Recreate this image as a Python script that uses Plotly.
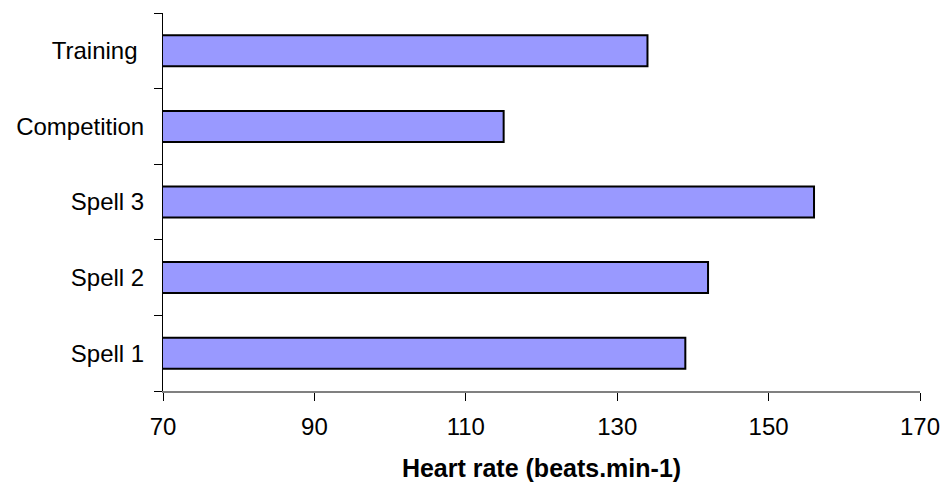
import plotly.graph_objects as go

categories = ["Spell 1", "Spell 2", "Spell 3", "Competition", "Training"]
category_labels = ["Spell 1", "Spell 2", "Spell 3", "Competition", "Training\u00a0"]
heart_rate = [139, 142, 156, 115, 134]
x_ticks = [70, 90, 110, 130, 150, 170]

fig = go.Figure(go.Bar(
    x=heart_rate, y=categories, orientation="h", base=0,
    marker=dict(color="#9999FF", line=dict(color="black", width=2)),
))

fig.update_layout(
    width=944, height=483,
    margin=dict(l=163, r=24, t=13, b=92, autoexpand=False),
    plot_bgcolor="white", paper_bgcolor="white",
    bargap=0.59, showlegend=False,
    font=dict(family="Liberation Sans, Arial", size=24, color="black"),
)
fig.update_xaxes(
    range=[70, 170], tickvals=x_ticks, showgrid=False, zeroline=False,
    showline=True, linecolor="#808080", linewidth=2, automargin=False,
    ticks="outside", ticklen=8, tickcolor="black", tickwidth=1,
    tickfont=dict(size=24), ticklabelstandoff=5,
    title=dict(text="<b>Heart rate (beats.min-1)</b>", font=dict(size=25), standoff=21),
)
fig.update_yaxes(
    categoryorder="array", categoryarray=categories,
    tickvals=categories, ticktext=category_labels, automargin=False,
    showgrid=False, zeroline=False, showline=True, linecolor="black", linewidth=1,
    ticks="outside", ticklen=8, tickcolor="black", tickson="boundaries",
    tickfont=dict(size=24), ticklabelstandoff=13,
)

fig.write_html("out.html")
